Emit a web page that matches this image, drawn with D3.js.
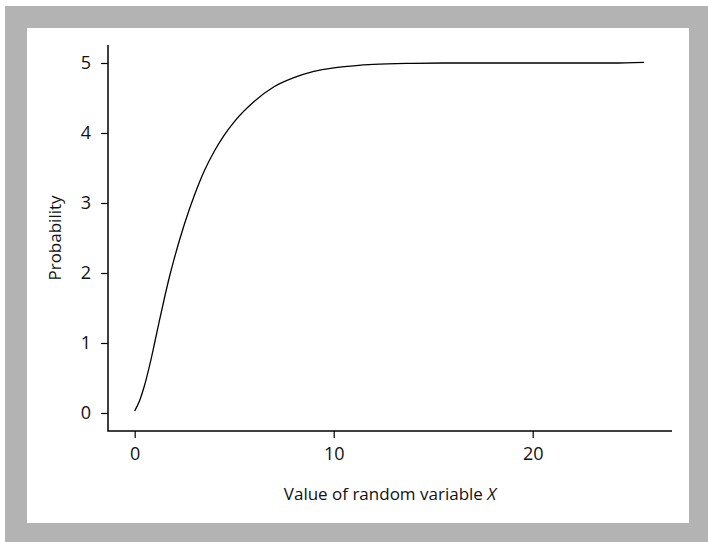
<!DOCTYPE html>
<html>
<head>
<meta charset="utf-8">
<script src="https://cdn.jsdelivr.net/npm/d3@7"></script>
<style>
  html, body { margin: 0; padding: 0; background: #fff; }
  svg { display: block; }
  text { font-family: "Open Sans", "Noto Sans", sans-serif; fill: #111; }
</style>
</head>
<body>
<svg id="chart" width="708" height="542"></svg>
<script>
const xValues = [0, 0.25, 0.5, 0.75, 1, 1.25, 1.5, 1.75, 2, 2.5, 3, 3.5, 4, 4.5, 5, 6, 7, 8, 9, 10, 11, 12, 14, 16, 18, 20, 22, 24, 25.6];
const yValues = [0.03, 0.18, 0.40, 0.68, 1.0, 1.33, 1.65, 1.95, 2.22, 2.70, 3.11, 3.46, 3.74, 3.97, 4.16, 4.45, 4.66, 4.79, 4.88, 4.93, 4.96, 4.98, 4.995, 5.0, 5.0, 5.0, 5.0, 5.0, 5.01];
const xTicks = [0, 10, 20];
const yTicks = [0, 1, 2, 3, 4, 5];
const xTitle = "Value of random variable ";
const xTitleItalic = "X";
const yTitle = "Probability";

const svg = d3.select("#chart");

// Grey frame with white panel
svg.append("rect").attr("x", 5).attr("y", 6).attr("width", 703).attr("height", 536).attr("fill", "#b3b3b3");
svg.append("rect").attr("x", 27).attr("y", 28).attr("width", 662).attr("height", 495).attr("fill", "#fff");

const x = d3.scaleLinear().domain([0, 20]).range([134.7, 532.7]);
const y = d3.scaleLinear().domain([0, 5]).range([413, 63]);

const axisLeft = 108, axisBottom = 431, axisTop = 45, axisRight = 672;

// Axis lines
svg.append("path")
  .attr("d", `M${axisLeft},${axisTop}V${axisBottom}H${axisRight}`)
  .attr("fill", "none").attr("stroke", "#000").attr("stroke-width", 1.5);

// X axis ticks
const xAxis = d3.axisBottom(x).tickValues(xTicks).tickSize(7).tickPadding(6).tickFormat(d3.format("d"));
const gx = svg.append("g").attr("transform", `translate(0,${axisBottom})`).call(xAxis);
gx.select(".domain").remove();
gx.selectAll(".tick line").attr("stroke", "#000").attr("stroke-width", 1.2);
gx.selectAll(".tick text").attr("font-size", 18).attr("font-family", "Open Sans, Noto Sans, sans-serif").attr("fill", "#111").attr("dy", "0.9em");

// Y axis ticks
const yAxis = d3.axisLeft(y).tickValues(yTicks).tickSize(7).tickPadding(10).tickFormat(d3.format("d"));
const gy = svg.append("g").attr("transform", `translate(${axisLeft},0)`).call(yAxis);
gy.select(".domain").remove();
gy.selectAll(".tick line").attr("stroke", "#000").attr("stroke-width", 1.2);
gy.selectAll(".tick text").attr("font-size", 18).attr("font-family", "Open Sans, Noto Sans, sans-serif").attr("fill", "#111");

// Axis titles
const xt = svg.append("text")
  .attr("x", (axisLeft + axisRight) / 2).attr("y", 500)
  .attr("text-anchor", "middle").attr("font-size", 17);
xt.append("tspan").text(xTitle);
xt.append("tspan").attr("font-style", "italic").text(xTitleItalic);

svg.append("text")
  .attr("transform", `translate(61,${(axisTop + axisBottom) / 2}) rotate(-90)`)
  .attr("text-anchor", "middle").attr("font-size", 17)
  .text(yTitle);

// Curve
const pts = xValues.map((v, i) => [v, yValues[i]]);
const line = d3.line().x(d => x(d[0])).y(d => y(d[1])).curve(d3.curveMonotoneX);
svg.append("path").datum(pts)
  .attr("d", line)
  .attr("fill", "none").attr("stroke", "#000").attr("stroke-width", 1.3);
</script>
</body>
</html>
